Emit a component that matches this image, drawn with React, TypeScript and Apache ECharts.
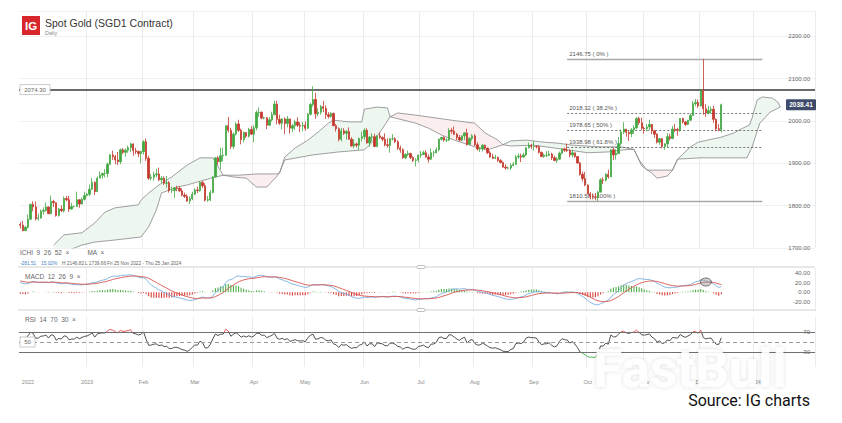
import React, { useEffect, useRef } from 'react';
import * as echarts from 'echarts';

// ---------- DATA (daily, weekdays from Fri 25 Nov 2022) ----------
const firstOpen = 1756;
const closes = [
  1754, 1741, 1749, 1768,
  1803, 1797, 1769, 1771, 1787, 1789, 1797, 1781, 1810, 1807, 1777, 1792, 1788, 1817, 1814, 1792, 1798, 1798, 1814, 1804, 1815, 1824,
  1827, 1839, 1855, 1833, 1865, 1872, 1876, 1876, 1898, 1920, 1916, 1908, 1904, 1932, 1926, 1931, 1937, 1946, 1930, 1928, 1923, 1928,
  1951, 1912, 1865, 1867, 1873, 1875, 1861, 1865, 1853, 1854, 1836, 1836, 1842, 1841, 1835, 1825, 1822, 1811, 1817, 1827,
  1837, 1836, 1855, 1847, 1813, 1814, 1831, 1868, 1913, 1904, 1918, 1919, 1989, 1978, 1940, 1969, 1993, 1978, 1956, 1973, 1964, 1980, 1969,
  1984, 2020, 2021, 2007, 2008, 1990, 2003, 2015, 2040, 2004, 1995, 2005, 1994, 2005, 1983, 1989, 1998, 1990, 1988, 1990,
  1983, 2016, 2039, 2051, 2017, 2021, 2034, 2030, 2015, 2011, 2018, 1989, 1982, 1957, 1977, 1971, 1975, 1957, 1941, 1946, 1943, 1959, 1963,
  1978, 1948, 1962, 1963, 1940, 1965, 1961, 1957, 1944, 1942, 1958, 1958, 1951, 1936, 1932, 1913, 1921, 1923, 1914, 1907, 1908, 1919,
  1921, 1925, 1915, 1910, 1925, 1925, 1932, 1957, 1961, 1955, 1955, 1978, 1976, 1969, 1961, 1955, 1965, 1972, 1945, 1959, 1965,
  1944, 1934, 1934, 1943, 1936, 1925, 1915, 1912, 1914, 1907, 1902, 1891, 1889, 1889, 1895, 1898, 1915, 1917, 1915, 1920, 1937, 1942, 1940,
  1940, 1939, 1926, 1916, 1919, 1919, 1922, 1913, 1907, 1910, 1924, 1934, 1931, 1930, 1920, 1925, 1916, 1901, 1874, 1864, 1849,
  1828, 1822, 1821, 1820, 1832, 1861, 1860, 1874, 1868, 1932, 1920, 1923, 1947, 1974, 1981, 1973, 1970, 1979, 1984, 2006, 1996, 1983,
  1982, 1986, 1992, 1977, 1969, 1950, 1958, 1940, 1946, 1963, 1959, 1981, 1980, 1978, 2006, 1998, 1992, 2002, 2013, 2041, 2044, 2036,
  2072, 2029, 2019, 2025, 2028, 2004, 1982, 1980, 2038.41,
];
const highs = [
  1761, 1764, 1752, 1779,
  1805, 1810, 1810, 1781, 1791, 1796, 1808, 1798, 1824, 1814, 1807, 1795, 1801, 1822, 1823, 1823, 1807, 1800, 1833, 1815, 1819, 1833,
  1830, 1850, 1865, 1858, 1869, 1881, 1878, 1886, 1902, 1922, 1930, 1920, 1927, 1935, 1936, 1935, 1942, 1949, 1947, 1937, 1930, 1930,
  1955, 1959, 1918, 1875, 1880, 1887, 1890, 1870, 1869, 1870, 1858, 1845, 1844, 1847, 1846, 1841, 1831, 1827, 1822, 1833,
  1841, 1845, 1858, 1858, 1853, 1823, 1837, 1870, 1914, 1917, 1937, 1937, 1990, 2010, 1984, 1973, 1997, 2003, 1982, 1975, 1974, 1984, 1988,
  1990, 2025, 2032, 2022, 2010, 2009, 2009, 2022, 2048, 2048, 2015, 2007, 2009, 2012, 2005, 1993, 2003, 2009, 1997, 1998,
  1999, 2019, 2043, 2082, 2067, 2030, 2038, 2048, 2037, 2021, 2021, 2020, 1993, 1985, 1984, 1983, 1979, 1985, 1962, 1957, 1949, 1961, 1975,
  1983, 1983, 1965, 1971, 1970, 1966, 1973, 1964, 1971, 1959, 1959, 1969, 1962, 1955, 1942, 1936, 1924, 1930, 1925, 1917, 1912, 1921,
  1929, 1930, 1931, 1921, 1935, 1930, 1938, 1959, 1963, 1964, 1959, 1983, 1983, 1987, 1972, 1967, 1966, 1974, 1982, 1962, 1969,
  1969, 1950, 1938, 1946, 1944, 1937, 1930, 1923, 1920, 1916, 1910, 1905, 1898, 1893, 1900, 1903, 1920, 1923, 1923, 1925, 1939, 1949, 1946,
  1953, 1943, 1943, 1928, 1923, 1929, 1930, 1925, 1918, 1915, 1928, 1935, 1937, 1947, 1933, 1932, 1925, 1917, 1903, 1880, 1880,
  1850, 1832, 1829, 1830, 1835, 1865, 1867, 1877, 1885, 1933, 1937, 1933, 1962, 1980, 1997, 1981, 1977, 1983, 1990, 2009, 2010, 2008,
  1987, 1993, 2003, 1993, 1979, 1971, 1960, 1960, 1948, 1971, 1970, 1988, 1993, 1984, 2007, 2008, 2000, 2003, 2018, 2048, 2052, 2051,
  2075, 2146.82, 2040, 2036, 2034, 2036, 2006, 1993, 2041,
];
const lows = [
  1746, 1739.66, 1740, 1746,
  1767, 1787, 1765, 1765, 1769, 1779, 1786, 1780, 1780, 1797, 1774, 1774, 1785, 1784, 1810, 1785, 1791, 1796, 1797, 1795, 1803, 1812,
  1822, 1822, 1838, 1825, 1833, 1865, 1864, 1867, 1867, 1896, 1908, 1898, 1896, 1898, 1922, 1916, 1925, 1927, 1918, 1922, 1915, 1900,
  1921, 1906, 1861, 1860, 1859, 1867, 1858, 1853, 1849, 1843, 1831, 1830, 1819, 1834, 1832, 1822, 1818, 1809, 1804, 1813,
  1825, 1830, 1833, 1842, 1810, 1809, 1811, 1829, 1867, 1896, 1886, 1905, 1918, 1973, 1934, 1934, 1966, 1974, 1945, 1950, 1960, 1961, 1967,
  1950, 1978, 2010, 2004, 2004, 1981, 1989, 1999, 2014, 1992, 1991, 1980, 1969, 1985, 1970, 1974, 1979, 1986, 1974, 1976,
  1977, 1981, 2013, 2034, 2005, 2011, 2015, 2021, 2005, 2006, 2008, 1988, 1975, 1952, 1952, 1967, 1956, 1956, 1940, 1936, 1938, 1932, 1952,
  1956, 1947, 1939, 1952, 1938, 1938, 1958, 1952, 1940, 1937, 1925, 1954, 1948, 1932, 1925, 1911, 1910, 1917, 1910, 1903, 1893, 1902,
  1913, 1920, 1913, 1902, 1908, 1915, 1924, 1928, 1954, 1951, 1950, 1953, 1970, 1967, 1955, 1952, 1952, 1955, 1942, 1943, 1954,
  1941, 1930, 1927, 1928, 1932, 1922, 1913, 1910, 1910, 1903, 1900, 1890, 1885, 1886, 1884, 1893, 1896, 1911, 1903, 1913, 1917, 1935, 1934,
  1930, 1935, 1923, 1915, 1913, 1915, 1917, 1908, 1905, 1901, 1909, 1921, 1927, 1927, 1914, 1914, 1913, 1899, 1871, 1857, 1846,
  1827, 1815, 1815, 1813, 1810.58, 1832, 1851, 1857, 1864, 1868, 1908, 1909, 1922, 1942, 1969, 1963, 1953, 1962, 1970, 1981, 1991, 1979,
  1970, 1976, 1979, 1969, 1960, 1947, 1944, 1936, 1932, 1938, 1954, 1957, 1974, 1965, 1975, 1994, 1988, 1991, 2000, 2012, 2035, 2031,
  2034, 2015, 2010, 2016, 2017, 1996, 1976, 1976, 1973,
];

// Ichimoku cloud spans: [category index, price]
const cloudSpanA: [number, number][] = [
  [13, 1707], [17, 1731], [24, 1736], [29, 1759], [33, 1785], [37, 1795], [46, 1802], [47, 1813], [50, 1830], [54, 1849],
  [59, 1868], [65, 1896], [70, 1913], [75, 1913], [79, 1872], [84, 1867], [88, 1865], [92, 1844], [96, 1844], [100, 1870],
  [101, 1878], [103, 1915], [107, 1936], [112, 1955], [116, 1974], [120, 1995], [122, 2002], [128, 1998], [133, 1998], [134, 2028],
  [139, 2033], [143, 2031], [144, 2010], [154, 1995], [159, 1983], [164, 1967], [169, 1955], [177, 1939], [182, 1932], [188, 1944],
  [191, 1953], [197, 1955], [204, 1950], [209, 1948], [215, 1943], [226, 1939], [234, 1939], [239, 1933], [242, 1894], [246, 1877],
  [248, 1865], [252, 1870], [254, 1884], [256, 1910], [261, 1939], [264, 1950], [273, 1962], [278, 1972], [280, 1979], [284, 1991],
  [285, 2007], [287, 2050], [289, 2057], [293, 2054], [295, 2045], [296, 2033],
];
const cloudSpanB: [number, number][] = [
  [13, 1688], [19, 1695], [24, 1707], [29, 1714], [37, 1719], [47, 1726], [50, 1750], [53, 1790], [55, 1830], [58, 1837],
  [61, 1844], [65, 1849], [69, 1856], [75, 1866], [79, 1872], [85, 1872], [92, 1875], [100, 1875], [101, 1878], [103, 1908],
  [114, 1920], [124, 1927], [134, 1932], [138, 1955], [142, 1991], [144, 2010], [147, 2019], [154, 2014], [168, 2002], [173, 1998],
  [177, 1995], [181, 1972], [186, 1955], [188, 1944], [191, 1941], [200, 1943], [213, 1932], [221, 1925], [229, 1927], [235, 1932],
  [239, 1933], [241, 1908], [244, 1884], [254, 1884], [256, 1910], [265, 1913], [283, 1913], [285, 1939], [288, 1995], [292, 2021],
  [296, 2033],
];
// segments between twists: [from, to, +1 bullish / -1 bearish]
const cloudSegments: [number, number, number][] = [
  [13, 79, 1], [79, 101, -1], [101, 144, 1], [144, 188, -1], [188, 239, 1], [239, 256, -1], [256, 296, 1],
];

const fibLevels = [
  { value: 2146.75, label: '2146.75 ( 0% )', solid: true },
  { value: 2018.32, label: '2018.32 ( 38.2% )', solid: false },
  { value: 1978.65, label: '1978.65 ( 50% )', solid: false },
  { value: 1938.98, label: '1938.98 ( 61.8% )', solid: false },
  { value: 1810.58, label: '1810.58 ( 100% )', solid: true },
];
const fibFromIndex = 213;
const fibToIndex = 289;
const resistanceLevel = 2074.3;
const lastPrice = 2038.41;
const macdMarkerIndex = 267;
const macdMarkerValue = 21;

const tickDates = ['2022-11-30', '2023-01-02', '2023-02-01', '2023-03-01', '2023-04-03', '2023-05-01', '2023-06-01',
  '2023-07-03', '2023-08-01', '2023-09-01', '2023-10-02', '2023-11-01', '2023-12-01', '2024-01-01'];
const tickLabels = ['2022', '2023', 'Feb', 'Mar', 'Apr', 'May', 'Jun', 'Jul', 'Aug', 'Sep', 'Oct', 'Nov', 'Dec', '2024'];

// indicator warm-up state before the first visible bar (estimated from the panels)
const macdSeed = { ema12: 1745, ema26: 1724, signal: 24 };
const rsiSeed = { gain: 7, loss: 4.5 };

const N_CATS = 310;

function buildCats(): string[] {
  const out: string[] = [];
  const d = new Date(Date.UTC(2022, 10, 25));
  while (out.length < N_CATS) {
    const wd = d.getUTCDay();
    if (wd !== 0 && wd !== 6) out.push(d.toISOString().slice(0, 10));
    d.setUTCDate(d.getUTCDate() + 1);
  }
  return out;
}

const FONT = '"Liberation Sans", Arial, sans-serif';
const UP = '#43a843';
const DOWN = '#c4392d';

export default function App() {
  const ref = useRef<HTMLDivElement>(null);
  useEffect(() => {
    document.body.style.margin = '0';
    const el = ref.current!;
    const chart = echarts.init(el, null, { renderer: 'svg' });
    const cats = buildCats();

    const candles = closes.map((c, i) => {
      const o = i === 0 ? firstOpen : closes[i - 1];
      return [o, c, Math.min(lows[i], o, c), Math.max(highs[i], o, c)];
    });

    // MACD 12 26 9
    let e12 = macdSeed.ema12, e26 = macdSeed.ema26, sig = macdSeed.signal;
    const macd: number[] = [], signal: number[] = [], hist: any[] = [];
    closes.forEach((c) => {
      e12 += (2 / 13) * (c - e12);
      e26 += (2 / 27) * (c - e26);
      const m = e12 - e26;
      sig += (2 / 10) * (m - sig);
      macd.push(+m.toFixed(2));
      signal.push(+sig.toFixed(2));
      const h = +(m - sig).toFixed(2);
      hist.push({ value: h, itemStyle: { color: h >= 0 ? '#4fae4a' : '#d8403a' } });
    });
    // RSI 14
    let g = rsiSeed.gain, l = rsiSeed.loss, prev = firstOpen;
    const rsi: number[] = [];
    closes.forEach((c) => {
      const d = c - prev;
      g = (g * 13 + Math.max(d, 0)) / 14;
      l = (l * 13 + Math.max(-d, 0)) / 14;
      rsi.push(+(100 - 100 / (1 + g / l)).toFixed(2));
      prev = c;
    });

    const tickIdx = tickDates.map((d) => cats.indexOf(d));
    const labelSet = new Set(tickIdx);
    const gridSet = new Set(tickIdx.slice(1));

    const xAxisBase = (gi: number, showLabel: boolean) => ({
      type: 'category', gridIndex: gi, data: cats, boundaryGap: true,
      axisLine: { show: false }, axisTick: { show: false },
      axisLabel: {
        show: showLabel, interval: (i: number) => labelSet.has(i),
        formatter: (v: string) => tickLabels[tickDates.indexOf(v)] ?? '',
        fontSize: 5.5, color: '#8a8a8a', margin: 12, fontFamily: FONT,
      },
      splitLine: { show: true, interval: (i: number) => gridSet.has(i), lineStyle: { color: '#ebebeb', width: 1 } },
    });

    const fibMarks = fibLevels.map((f) => [
      {
        coord: [cats[fibFromIndex], f.value],
        lineStyle: f.solid ? { color: '#a8a8a8', width: 1.4, type: 'solid' } : { color: '#555', width: 0.8, type: [2, 2] },
        label: {
          show: true, position: 'insideStartTop', formatter: f.label, fontSize: 6, color: '#555',
          fontFamily: FONT, distance: 2,
        },
      },
      { coord: [cats[fibToIndex], f.value] },
    ]);

    const option: any = {
      animation: false,
      grid: [
        { left: 19, right: 27, top: 11, height: 237 },
        { left: 19, right: 27, top: 268, height: 43.5 },
        { left: 19, right: 27, top: 317, height: 50 },
      ],
      xAxis: [xAxisBase(0, false), xAxisBase(1, false), xAxisBase(2, true)],
      yAxis: [
        {
          type: 'value', gridIndex: 0, position: 'right', min: 1700, max: 2260, interval: 100,
          axisLine: { show: false }, axisTick: { show: false },
          axisLabel: { inside: true, margin: 5, fontSize: 6, color: '#666', fontFamily: FONT, showMaxLabel: false,
            formatter: (v: number) => v.toFixed(2) },
          splitLine: { show: true, lineStyle: { color: '#f1f1f1' } },
        },
        {
          type: 'value', gridIndex: 1, position: 'right', min: -40, max: 50, interval: 20,
          axisLine: { show: false }, axisTick: { show: false },
          axisLabel: { inside: true, margin: 5, fontSize: 6, color: '#666', fontFamily: FONT, showMaxLabel: false,
            showMinLabel: false, formatter: (v: number) => v.toFixed(2) },
          splitLine: { show: false },
        },
        {
          type: 'value', gridIndex: 2, position: 'right', min: 0, max: 100, interval: 10,
          axisLine: { show: false }, axisTick: { show: false },
          axisLabel: { inside: true, margin: 5, fontSize: 6, color: '#666', fontFamily: FONT,
            formatter: (v: number) => (v === 30 || v === 70 ? String(v) : '') },
          splitLine: { show: false },
        },
      ],
      visualMap: [{
        show: false, type: 'piecewise', seriesIndex: 7, dimension: 1,
        pieces: [{ lte: 30, color: '#3fae49' }, { gt: 30, lte: 70, color: '#3c3c3c' }, { gt: 70, color: '#e0474c' }],
      }],
      series: [
        {
          type: 'custom', xAxisIndex: 0, yAxisIndex: 0, clip: true, silent: true, z: 1,
          data: cloudSegments.map((s) => [s[0], 1900, s[2]]),
          encode: { x: 0, y: 1 },
          renderItem: (params: any, api: any) => {
            const [s, e, dir] = cloudSegments[params.dataIndex];
            const top = cloudSpanA.filter((p) => p[0] >= s && p[0] <= e).map((p) => api.coord([p[0], p[1]]));
            const bot = cloudSpanB.filter((p) => p[0] >= s && p[0] <= e).map((p) => api.coord([p[0], p[1]])).reverse();
            return {
              type: 'polygon', shape: { points: top.concat(bot) },
              style: { fill: dir > 0 ? '#eef6f0' : '#fbeeef' },
            };
          },
        },
        {
          type: 'line', xAxisIndex: 0, yAxisIndex: 0, data: cloudSpanA, showSymbol: false, symbol: 'none', z: 2,
          lineStyle: { color: '#888888', width: 0.8 }, silent: true,
        },
        {
          type: 'line', xAxisIndex: 0, yAxisIndex: 0, data: cloudSpanB, showSymbol: false, symbol: 'none', z: 2,
          lineStyle: { color: '#888888', width: 0.8 }, silent: true,
        },
        {
          type: 'candlestick', xAxisIndex: 0, yAxisIndex: 0, data: candles, z: 5, barWidth: '72%',
          itemStyle: { color: UP, color0: DOWN, borderColor: UP, borderColor0: DOWN, borderWidth: 0.8 },
          markLine: {
            silent: true, symbol: ['none', 'none'], animation: false,
            data: [
              { yAxis: resistanceLevel, lineStyle: { color: '#3a3a3a', width: 1.5, type: 'solid' }, label: { show: false } },
              ...fibMarks,
            ],
          },
        },
        {
          type: 'bar', xAxisIndex: 1, yAxisIndex: 1, data: hist, barWidth: 1.1, silent: true, z: 2,
        },
        {
          type: 'line', xAxisIndex: 1, yAxisIndex: 1, data: macd, showSymbol: false, symbol: 'none', z: 3,
          lineStyle: { color: '#79aee0', width: 0.9 }, silent: true,
          markPoint: {
            silent: true,
            data: [{
              coord: [cats[macdMarkerIndex], macdMarkerValue], symbol: 'circle', symbolSize: [11, 8],
              itemStyle: { color: 'rgba(150,150,150,0.45)', borderColor: '#555', borderWidth: 0.8 },
              label: { show: false },
            }],
          },
        },
        {
          type: 'line', xAxisIndex: 1, yAxisIndex: 1, data: signal, showSymbol: false, symbol: 'none', z: 3,
          lineStyle: { color: '#d9534f', width: 0.9 }, silent: true,
        },
        {
          type: 'line', xAxisIndex: 2, yAxisIndex: 2, data: rsi, showSymbol: false, symbol: 'none', z: 3,
          lineStyle: { width: 0.9 }, silent: true,
          markLine: {
            silent: true, symbol: ['none', 'none'],
            data: [
              { yAxis: 70, lineStyle: { color: '#707070', width: 1, type: 'solid' }, label: { show: false } },
              { yAxis: 50, lineStyle: { color: '#9a9a9a', width: 1, type: [4, 3] }, label: { show: false } },
              { yAxis: 30, lineStyle: { color: '#707070', width: 1, type: 'solid' }, label: { show: false } },
            ],
          },
        },
      ],
    };
    chart.setOption(option);

    const yRes = chart.convertToPixel({ yAxisIndex: 0 }, resistanceLevel) as number;
    const yLast = chart.convertToPixel({ yAxisIndex: 0 }, lastPrice) as number;
    const y50 = chart.convertToPixel({ yAxisIndex: 2 }, 50) as number;

    const txt = (x: number, y: number, text: string, size: number, fill: string, extra: any = {}) => ({
      type: 'text', x, y, silent: true, z: 20,
      style: { text, fontSize: size, fill, fontFamily: FONT, align: 'left', verticalAlign: 'middle', ...extra },
    });

    chart.setOption({
      graphic: [
        { type: 'rect', shape: { x: 22, y: 16, width: 18, height: 19 }, style: { fill: '#d8262d' }, z: 20, silent: true },
        txt(31, 26, 'IG', 11.5, '#ffffff', { align: 'center', fontWeight: 'bold' }),
        txt(45, 23, 'Spot Gold (SGD1 Contract)', 10.5, '#333333'),
        txt(45, 32.5, 'Daily', 5.5, '#888888'),
        { type: 'rect', shape: { x: 20, y: yRes - 5, width: 30, height: 10 }, style: { fill: '#ffffff', stroke: '#bdbdbd', lineWidth: 0.8 }, z: 20, silent: true },
        txt(35, yRes, resistanceLevel.toFixed(2), 6, '#666666', { align: 'center' }),
        { type: 'rect', shape: { x: 786, y: yLast - 5.5, width: 30, height: 11, r: 1 }, style: { fill: '#3e4b69' }, z: 20, silent: true },
        txt(801, yLast, lastPrice.toFixed(2), 6.5, '#ffffff', { align: 'center', fontWeight: 'bold' }),
        txt(20, 252, 'ICHI  9  26  52  ×          MA  ×', 6.5, '#666666'),
        txt(20, 263, '-281.51', 4.8, '#3f7fc4'),
        txt(41, 263, '15.02%', 4.8, '#3f7fc4'),
        txt(62, 263, 'H 2146.82', 4.8, '#666666'),
        txt(85, 263, 'L 1739.66', 4.8, '#666666'),
        txt(107, 263, 'Fri 25 Nov 2022 - Thu 25 Jan 2024', 4.8, '#666666'),
        { type: 'line', shape: { x1: 18, y1: 267, x2: 815, y2: 267 }, style: { stroke: '#cfcfcf', lineWidth: 1 }, z: 20, silent: true },
        { type: 'line', shape: { x1: 18, y1: 310, x2: 815, y2: 310 }, style: { stroke: '#cfcfcf', lineWidth: 1 }, z: 20, silent: true },
        { type: 'rect', shape: { x: 417, y: 265.5, width: 8, height: 3, r: 1 }, style: { fill: '#ffffff', stroke: '#a8a8a8', lineWidth: 0.7 }, z: 21, silent: true },
        { type: 'rect', shape: { x: 417, y: 308.5, width: 8, height: 3, r: 1 }, style: { fill: '#ffffff', stroke: '#a8a8a8', lineWidth: 0.7 }, z: 21, silent: true },
        txt(25, 276, 'MACD  12  26  9  ×', 6.5, '#666666'),
        txt(25, 319, 'RSI  14  70  30  ×', 6.5, '#666666'),
        { type: 'rect', shape: { x: 20, y: y50 - 5, width: 15, height: 10 }, style: { fill: '#ffffff', stroke: '#bdbdbd', lineWidth: 0.8 }, z: 20, silent: true },
        txt(27.5, y50, '50', 6, '#666666', { align: 'center' }),
        {
          type: 'text', x: 690, y: 369, z: 50, silent: true,
          style: {
            text: 'FastBull', fontSize: 53, fontWeight: 'bold', fontFamily: 'Roboto, sans-serif',
            fill: 'rgba(255,255,255,0.9)', align: 'center', verticalAlign: 'middle',
            textShadowColor: 'rgba(0,0,0,0.16)', textShadowBlur: 4,
          },
        },
        txt(810, 400, 'Source: IG charts', 16, '#111111', { align: 'right', fontFamily: 'Roboto, sans-serif' }),
      ],
    });

    return () => chart.dispose();
  }, []);
  return <div ref={ref} style={{ width: 842, height: 423 }} />;
}
